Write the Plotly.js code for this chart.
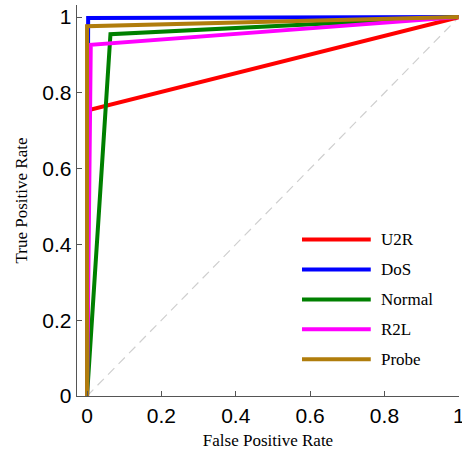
<!DOCTYPE html>
<html>
<head>
<meta charset="utf-8">
<script src="https://cdn.plot.ly/plotly-3.0.1.min.js"></script>
<style>html,body{margin:0;padding:0;background:#fff;}#chart{width:462px;height:450px;}</style>
</head>
<body>
<div id="chart"></div>
<script>
// Series (ROC points: false positive rate, true positive rate)
var seriesNames = ["U2R", "DoS", "Normal", "R2L", "Probe"];
var seriesColors = ["#ff0000", "#0000ff", "#008000", "#ff00ff", "#b07d0c"];
var fprU2R = [0, 0.005, 1];
var tprU2R = [0, 0.755, 1];
var fprDoS = [0, 0.003, 1];
var tprDoS = [0, 0.998, 1];
var fprNormal = [0, 0.063, 1];
var tprNormal = [0, 0.955, 1];
var fprR2L = [0, 0.01, 1];
var tprR2L = [0, 0.927, 1];
var fprProbe = [0, 0.0, 1];
var tprProbe = [0, 0.976, 1];
var chanceX = [0, 1];
var chanceY = [0, 1];
var tickVals = [0, 0.2, 0.4, 0.6, 0.8, 1];
var tickText = ["0", "0.2", "0.4", "0.6", "0.8", "1"];

var xs = [fprU2R, fprDoS, fprNormal, fprR2L, fprProbe];
var ys = [tprU2R, tprDoS, tprNormal, tprR2L, tprProbe];

var traces = [{
  x: chanceX, y: chanceY, mode: "lines", showlegend: false, hoverinfo: "skip",
  line: {color: "#cfcfcf", width: 1.2, dash: "9px,6px"}
}];
for (var i = 0; i < seriesNames.length; i++) {
  traces.push({
    x: xs[i], y: ys[i], name: seriesNames[i], mode: "lines", showlegend: false,
    line: {color: seriesColors[i], width: 4}
  });
}

// Custom legend (long line samples like the reference)
var shapes = [], annotations = [];
var legX0 = 0.589, legX1 = 0.769, legTop = 0.400, legStep = 0.0765;
for (var j = 0; j < seriesNames.length; j++) {
  var yy = legTop - j * legStep;
  shapes.push({type: "line", xref: "paper", yref: "paper", x0: legX0, x1: legX1, y0: yy, y1: yy,
    line: {color: seriesColors[j], width: 4}});
  annotations.push({xref: "paper", yref: "paper", x: 0.79, y: yy, xanchor: "left", yanchor: "middle",
    text: seriesNames[j], showarrow: false,
    font: {family: "Liberation Serif, Times New Roman, serif", size: 17, color: "#000"}});
}

var axisCommon = {
  showgrid: false, zeroline: false, showline: true, linecolor: "#555", linewidth: 1.3,
  ticks: "inside", ticklen: 5, tickcolor: "#555", tickwidth: 1,
  tickvals: tickVals, ticktext: tickText, ticklabeloverflow: "allow",
  tickfont: {family: "Liberation Sans, Arial, sans-serif", size: 21, color: "#000"}
};

var layout = {
  width: 462, height: 450,
  margin: {l: 77, r: 3, t: 5, b: 54},
  paper_bgcolor: "#fff", plot_bgcolor: "#fff",
  showlegend: false,
  xaxis: Object.assign({}, axisCommon, {
    range: [-0.027, 1.0005], anchor: "y",
    title: {text: "False Positive Rate", standoff: 8,
      font: {family: "Liberation Serif, Times New Roman, serif", size: 17, color: "#000"}}
  }),
  yaxis: Object.assign({}, axisCommon, {
    range: [0, 1.032],
    title: {text: "True Positive Rate", standoff: 10,
      font: {family: "Liberation Serif, Times New Roman, serif", size: 17, color: "#000"}}
  }),
  shapes: shapes,
  annotations: annotations
};

Plotly.newPlot("chart", traces, layout, {displayModeBar: false, staticPlot: true});
</script>
</body>
</html>
